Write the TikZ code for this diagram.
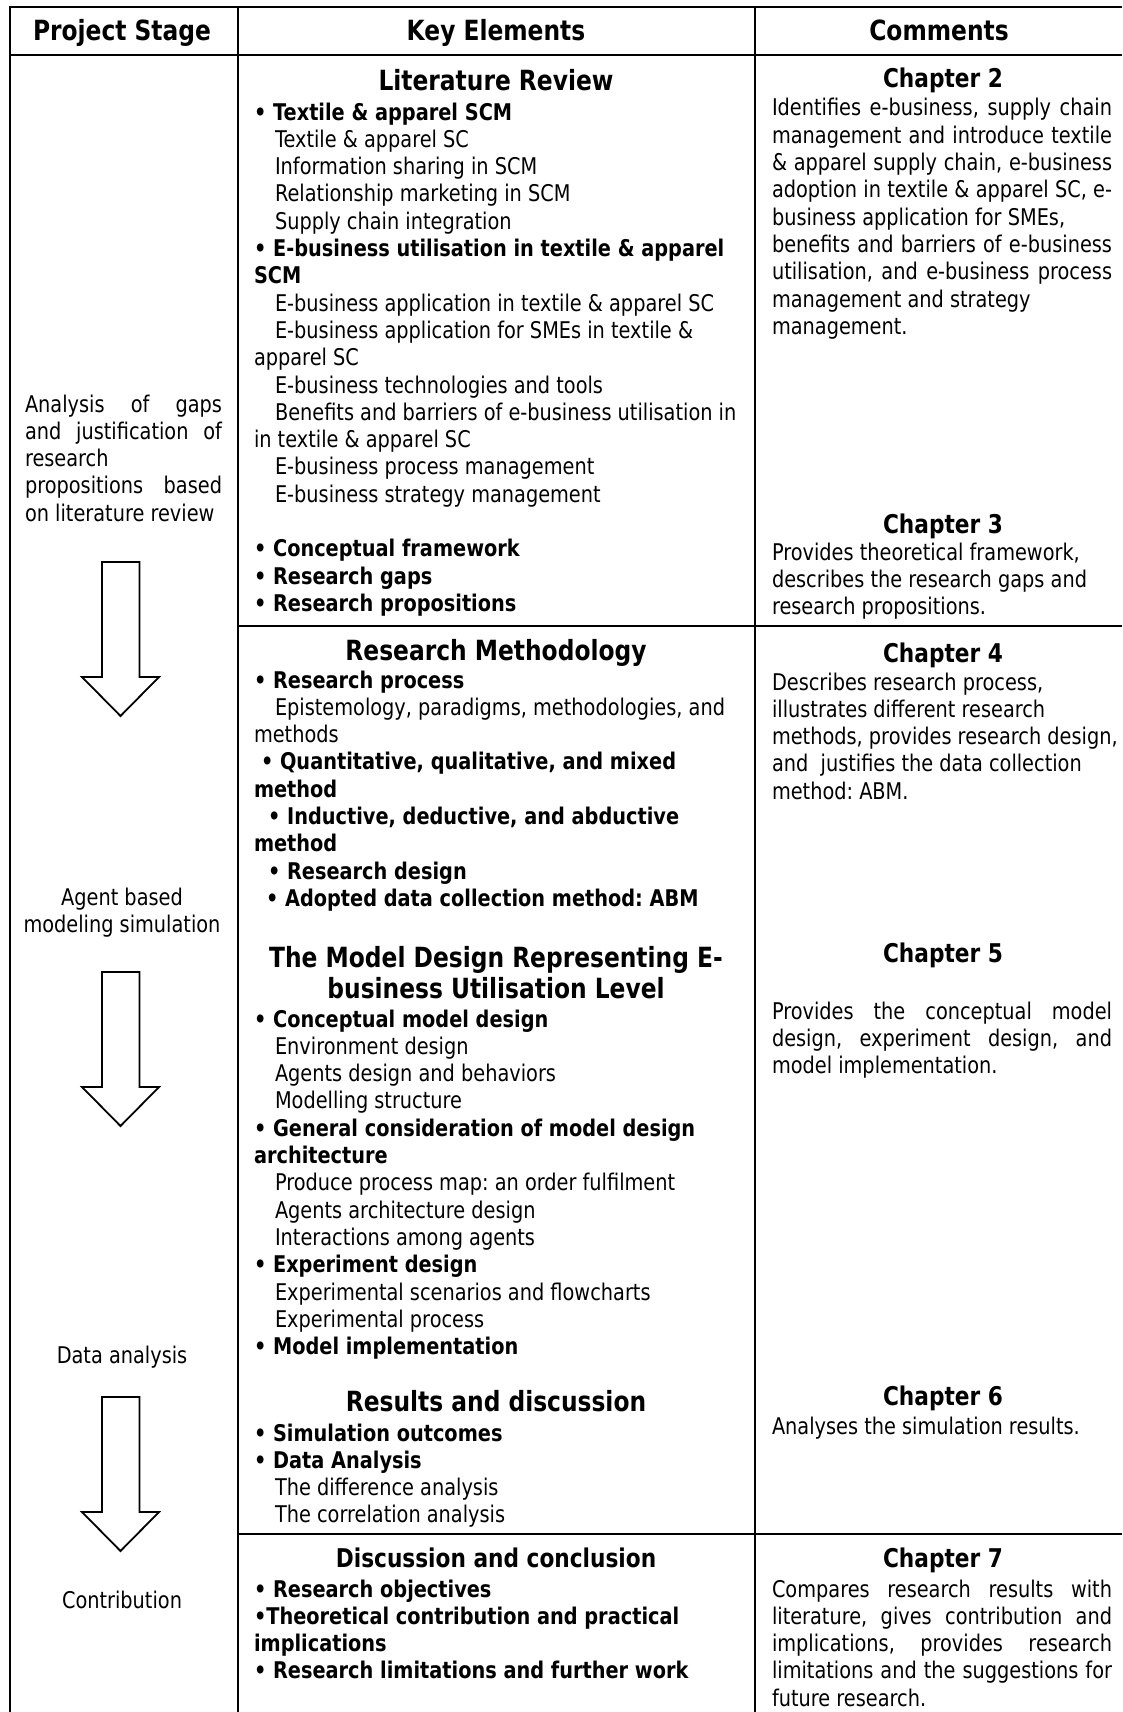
\documentclass[tikz,border=0pt]{standalone}
\usepackage{fontspec}
\setmainfont{DejaVu Sans}[FakeStretch=0.84]
\newcommand\bodyfnt{\fontsize{23}{27.3}\selectfont\frenchspacing}
\newcommand\headfnt{\fontsize{27.8}{31}\selectfont\bfseries}
\newcommand\chapfnt{\fontsize{25.8}{30}\selectfont\bfseries}
\newcommand\ind{\hspace*{21pt}}
\newcommand\bul{\textbullet\ }
\begin{document}
\begin{tikzpicture}[x=1pt,y=-1pt,
  rule/.style={line width=2pt},
  stagearrow/.style={draw=black, line width=1.8pt, fill=white, line join=miter},
  txt/.style={inner sep=0pt, outer sep=0pt},
  body/.style={txt, font=\bodyfnt, align=left, anchor=north west, yshift=19.11pt},
  para/.style={txt, font=\bodyfnt, align=justify, anchor=north west, yshift=19.11pt, text width=#1},
  head/.style={txt, font=\headfnt, align=center, anchor=base},
  headml/.style={txt, font=\headfnt, align=center, anchor=north, yshift=21.7pt},
  chap/.style={txt, font=\chapfnt, anchor=base},
  stage/.style={txt, font=\bodyfnt, align=center, anchor=base},
]
\fill[white] (0,0) rectangle (1122,1712);
\useasboundingbox (0,0) rectangle (1122,1712);

% table rules
\draw[rule] (9.5,1712) -- (9.5,7) -- (1122,7);
\draw[rule] (9.5,55) -- (1122,55);
\draw[rule] (238,7) -- (238,1712);
\draw[rule] (755,7) -- (755,1712);
\draw[rule] (238,626) -- (1122,626);
\draw[rule] (238,1534) -- (1122,1534);

% header row
\node[head] (hstage) at (122,41) {Project Stage};
\node[head] (hkey) at (496,41) {Key Elements};
\node[head] (hcom) at (939,41) {Comments};

% project stage column
\node[para=197pt] (st1) at (25,412) {\noindent\strut Analysis of gaps\linebreak and justification of\linebreak research\newline propositions based\linebreak on literature review};
\node[stage] (st2a) at (122,905) {Agent based};
\node[stage] (st2b) at (122,932) {modeling simulation};
\node[stage] (st3) at (122,1363) {Data analysis};
\node[stage] (st4) at (122,1608) {Contribution};

% block arrows between stages
\foreach \t in {562,972,1397}{
  \draw[stagearrow, shift={(0,\t)}] (102,0) -- (139.5,0) -- (139.5,115) -- (159,115)
    -- (120.5,154) -- (82,115) -- (102,115) -- cycle;
}

% key elements: literature review
\node[head] (litt) at (496,91) {Literature Review};
\node[body] (litb) at (254,120) {\strut\textbf{\bul Textile \& apparel SCM}\\
\ind Textile \& apparel SC\\
\ind Information sharing in SCM\\
\ind Relationship marketing in SCM\\
\ind Supply chain integration\\
\textbf{\bul E-business utilisation in textile \& apparel}\\
\textbf{SCM}\\
\ind E-business application in textile \& apparel SC\\
\ind E-business application for SMEs in textile \&\\
apparel SC\\
\ind E-business technologies and tools\\
\ind Benefits and barriers of e-business utilisation in\\
in textile \& apparel SC\\
\ind E-business process management\\
\ind E-business strategy management\\[27.3pt]
\textbf{\bul Conceptual framework}\\
\textbf{\bul Research gaps}\\
\textbf{\bul Research propositions}};

% key elements: research methodology
\node[head] (metht) at (496,660) {Research Methodology};
\node[body] (methb) at (254,688) {\strut\textbf{\bul Research process}\\
\ind Epistemology, paradigms, methodologies, and\\
methods\\
\hspace*{7pt}\textbf{\bul Quantitative, qualitative, and mixed}\\
\textbf{method}\\
\hspace*{14pt}\textbf{\bul Inductive, deductive, and abductive}\\
\textbf{method}\\
\hspace*{14pt}\textbf{\bul Research design}\\
\hspace*{12pt}\textbf{\bul Adopted data collection method: ABM}};

% key elements: model design
\node[headml] (modt) at (496,967) {\strut The Model Design Representing E-\\business Utilisation Level};
\node[body] (modb) at (254,1027) {\strut\textbf{\bul Conceptual model design}\\
\ind Environment design\\
\ind Agents design and behaviors\\
\ind Modelling structure\\
\textbf{\bul General consideration of model design}\\
\textbf{architecture}\\
\ind Produce process map: an order fulfilment\\
\ind Agents architecture design\\
\ind Interactions among agents\\
\textbf{\bul Experiment design}\\
\ind Experimental scenarios and flowcharts\\
\ind Experimental process\\
\textbf{\bul Model implementation}};

% key elements: results
\node[head] (rest) at (496,1411) {Results and discussion};
\node[body] (resb) at (254,1441) {\strut\textbf{\bul Simulation outcomes}\\
\textbf{\bul Data Analysis}\\
\ind The difference analysis\\
\ind The correlation analysis};

% key elements: conclusion
\node[chap] (cont) at (496,1567) {Discussion and conclusion};
\node[body] (conb) at (254,1597) {\strut\textbf{\bul Research objectives}\\
\textbf{\textbullet Theoretical contribution and practical}\\
\textbf{implications}\\
\textbf{\bul Research limitations and further work}};

% comments column
\node[chap] (c2t) at (943,88) {Chapter 2};
\node[para=340pt] (c2b) at (772,116) {\noindent\strut Identifies e-business, supply chain\linebreak
management and introduce textile\linebreak
\& apparel supply chain, e-business\linebreak
adoption in textile \& apparel SC, e-\linebreak
business application for SMEs,\newline
benefits and barriers of e-business\linebreak
utilisation, and e-business process\linebreak
management and strategy\newline
management.};

\node[chap] (c3t) at (943,533) {Chapter 3};
\node[body] (c3b) at (772,560) {\strut Provides theoretical framework,\\
describes the research gaps and\\
research propositions.};

\node[chap] (c4t) at (943,662) {Chapter 4};
\node[body] (c4b) at (772,690) {\strut Describes research process,\\
illustrates different research\\
methods, provides research design,\\
and~ justifies the data collection\\
method: ABM.};

\node[chap] (c5t) at (943,962) {Chapter 5};
\node[para=340pt] (c5b) at (772,1019) {\noindent\strut Provides the conceptual model\linebreak
design, experiment design, and\linebreak
model implementation.};

\node[chap] (c6t) at (943,1405) {Chapter 6};
\node[body] (c6b) at (772,1434) {\strut Analyses the simulation results.};

\node[chap] (c7t) at (943,1567) {Chapter 7};
\node[para=340pt] (c7b) at (772,1597) {\noindent\strut Compares research results with\linebreak
literature, gives contribution and\linebreak
implications, provides research\linebreak
limitations and the suggestions for\linebreak
future research.};
\end{tikzpicture}
\end{document}
